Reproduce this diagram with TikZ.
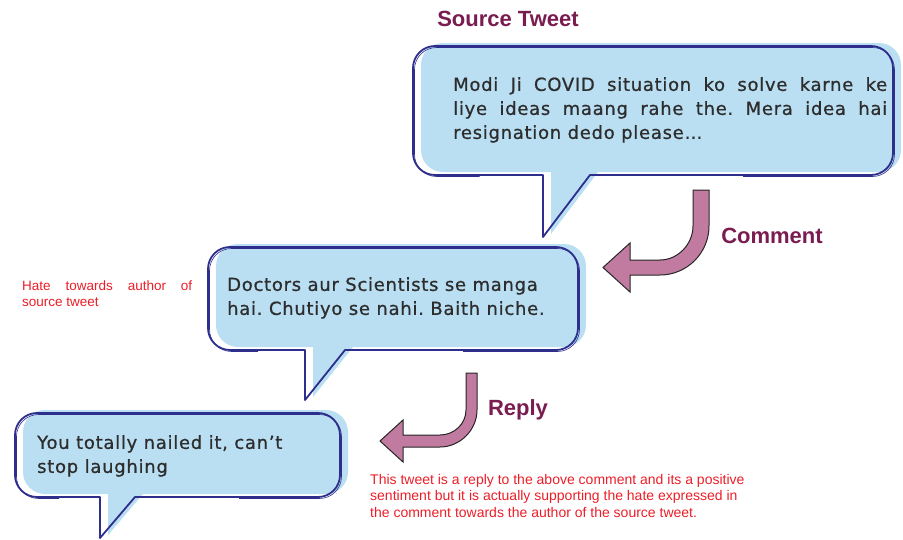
\documentclass[tikz,border=0pt]{standalone}
\usepackage{fontspec}
\setmainfont{Liberation Sans}
\newfontfamily\bubblefont[LetterSpace=4,FakeBold=0.8]{DejaVu Sans}

\definecolor{bubbleblue}{RGB}{186,223,243}
\definecolor{bubbleedge}{RGB}{46,46,140}
\definecolor{tweetgray}{RGB}{45,45,45}
\definecolor{notered}{RGB}{235,30,40}
\definecolor{labelmaroon}{RGB}{122,28,80}
\definecolor{arrowpink}{RGB}{194,123,160}

\tikzset{
    bubblefill/.style={fill=bubbleblue},
    bubbleline/.style={draw=bubbleedge, line width=1.8pt, line join=round},
    tweettext/.style={font=\bubblefont\fontsize{18}{24}\selectfont\frenchspacing, text=tweetgray,
        inner sep=0pt, anchor=north west},
    notetext/.style={text=notered, inner sep=0pt, anchor=north west},
    flowlabel/.style={font=\bfseries\fontsize{22}{26}\selectfont, text=labelmaroon,
        inner sep=0pt, anchor=base},
    flowarrow/.style={fill=arrowpink, draw=black!85, line width=1pt, line join=miter}
}

% speech bubble: x1, y1, x2, y2, tail left, tail right, tail tip
\newcommand{\tweetbubble}[7]{%
    \fill[bubblefill, shift={(8,-3)}] (#5,#4) -- (#5,#7) -- (#6,#4) -- ({(#6+#3)/2},#4)
        [rounded corners=22pt] -- (#3,#4) -- (#3,#2) -- (#1,#2) -- (#1,#4)
        -- ({(#1+#5)/2},#4) [sharp corners] -- cycle;
    \draw[bubbleline] (#5,#4) -- (#5,#7) -- (#6,#4) -- ({(#6+#3)/2},#4)
        [rounded corners=22pt] -- (#3,#4) -- (#3,#2) -- (#1,#2) -- (#1,#4)
        -- ({(#1+#5)/2},#4) [sharp corners] -- cycle;
    \draw[bubbleline, line width=0.6pt, shift={(1.5,1.5)}] ({(#6+#3)/2},#4)
        [rounded corners=22pt] -- (#3,#4) -- (#3,#2) -- (#1,#2) -- (#1,#4)
        -- ({(#1+#5)/2},#4);
}

\begin{document}
\begin{tikzpicture}[x=1pt, y=-1pt]

    \useasboundingbox (0,0) rectangle (903,539);

    % Bubbles
    \tweetbubble{413}{46}{893}{175}{543}{590}{237}
    \tweetbubble{208}{247}{578}{350}{305}{345}{400}
    \tweetbubble{15}{413}{340}{497}{100}{135}{538}

    % Bubble texts
    \node[tweettext, text width=434pt, align=justify] (srctext) at (453,77)
        {Modi Ji COVID situation ko solve karne ke\linebreak
         liye ideas maang rahe the. Mera idea hai\linebreak
         resignation dedo please…};
    \node[tweettext, align=left] (commenttext) at (227,277)
        {Doctors aur Scientists se manga\\hai. Chutiyo se nahi. Baith niche.};
    \node[tweettext, align=left] (replytext) at (37,435)
        {You totally nailed it, can’t\\stop laughing};

    % Labels
    \node[flowlabel] (srclabel) at (508,26) {Source Tweet};
    \node[flowlabel] (commentlabel) at (772,243) {Comment};
    \node[flowlabel] (replylabel) at (518,415) {Reply};

    % Bent arrows
    \draw[flowarrow] (693,190) -- (709,190) -- (709,226)
        .. controls (709,253) and (687,275) .. (660,275) -- (630,275) -- (630,292)
        -- (603,267.5) -- (630,243) -- (630,260) -- (660,260)
        .. controls (678,260) and (693,244) .. (693,226) -- cycle;
    \draw[flowarrow] (466,373) -- (477,373) -- (477,410)
        .. controls (477,430) and (460,447) .. (440,447) -- (403,447) -- (403,462)
        -- (380,441) -- (403,420) -- (403,435) -- (440,435)
        .. controls (454,435) and (466,424) .. (466,410) -- cycle;

    % Notes
    \node[notetext, font=\fontsize{13.5}{16}\selectfont, text width=170pt, align=justify]
        (hatenote) at (22,281) {Hate towards author of\linebreak source tweet};
    \node[notetext, font=\fontsize{14}{16.5}\selectfont, align=left] (replynote) at (370,474)
        {This tweet is a reply to the above comment and its a positive\\
         sentiment but it is actually supporting the hate expressed in\\
         the comment towards the author of the source tweet.};

\end{tikzpicture}
\end{document}
